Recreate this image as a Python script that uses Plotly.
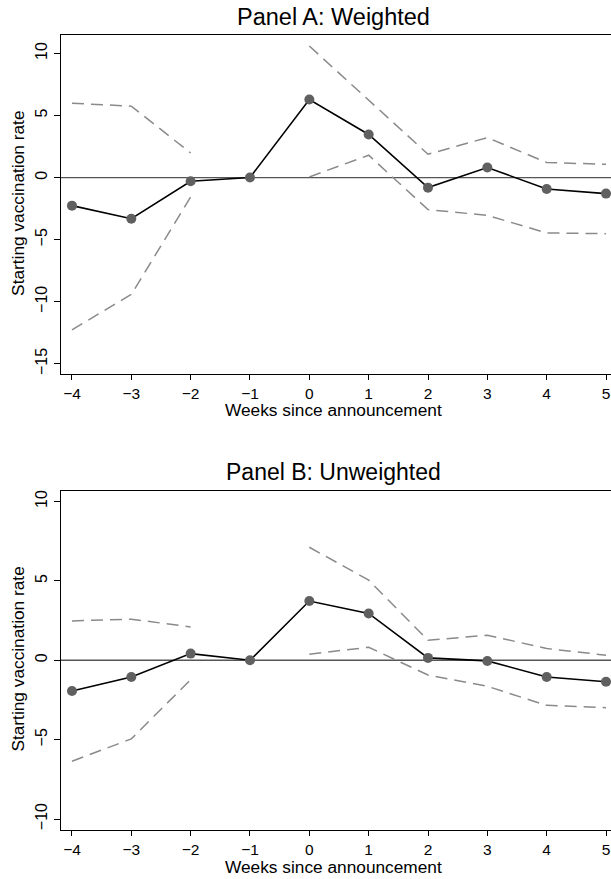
import plotly.graph_objects as go

weeks = [-4, -3, -2, -1, 0, 1, 2, 3, 4, 5]

# Panel A: Weighted
a_est = [-2.26, -3.31, -0.30, 0.0, 6.29, 3.47, -0.81, 0.81, -0.92, -1.29]
a_hi = [5.99, 5.75, 1.98, None, 10.59, 6.20, 1.88, 3.22, 1.21, 1.07]
a_lo = [-12.26, -9.41, -1.56, None, 0.05, 1.80, -2.58, -3.04, -4.46, -4.52]

# Panel B: Unweighted
b_est = [-1.94, -1.05, 0.42, 0.0, 3.73, 2.95, 0.15, -0.04, -1.05, -1.35]
b_hi = [2.48, 2.59, 2.10, None, 7.12, 5.05, 1.26, 1.58, 0.74, 0.32]
b_lo = [-6.36, -4.95, -1.22, None, 0.38, 0.82, -0.93, -1.64, -2.84, -2.99]

a_yticks = [10, 5, 0, -5, -10, -15]
b_yticks = [10, 5, 0, -5, -10]

FONT = "Liberation Sans, Arial, Helvetica, sans-serif"
CI_COLOR = "#8a8a8a"
PT_COLOR = "#606060"

# pixel layout helpers
H = 879
TOP = 35
BOT = 830.5
PH = BOT - TOP


def py(px):
    return (BOT - px) / PH


def px_x(px):
    return (px - 61) / 550


fig = go.Figure()


def add_panel(est, hi, lo, xa, ya):
    for ci in (hi, lo):
        fig.add_trace(go.Scatter(
            x=weeks, y=ci, xaxis=xa, yaxis=ya, mode="lines",
            line=dict(color=CI_COLOR, width=1.5, dash="12px,7px"),
            connectgaps=False, showlegend=False, hoverinfo="skip"))
    fig.add_trace(go.Scatter(
        x=weeks, y=est, xaxis=xa, yaxis=ya, mode="lines+markers",
        line=dict(color="black", width=1.6),
        marker=dict(color=PT_COLOR, size=10),
        cliponaxis=False, showlegend=False))


add_panel(a_est, a_hi, a_lo, "x", "y")
add_panel(b_est, b_hi, b_lo, "x2", "y2")

xcommon = dict(range=[-4.185, 5.084], tickvals=weeks, ticks="outside", ticklen=5,
               tickwidth=1.2, tickcolor="black", showline=True, linecolor="black",
               linewidth=1.3, mirror=True, showgrid=False, zeroline=False,
               tickfont=dict(size=15.5, color="black", family=FONT))
ycommon = dict(ticks="outside", ticklen=6, tickwidth=1.2, tickcolor="black",
               showline=True, linecolor="black", linewidth=1.3, mirror=False,
               showgrid=False, zeroline=False, tickangle=-90,
               tickfont=dict(size=16, color="black", family=FONT))

fig.update_layout(
    width=611, height=H,
    margin=dict(l=61, r=0, t=TOP, b=H - BOT),
    paper_bgcolor="white", plot_bgcolor="white",
    font=dict(family=FONT, color="black"),
    xaxis=dict(domain=[0, 1], anchor="y", **xcommon),
    yaxis=dict(domain=[py(374), 1.0], anchor="x", range=[-15.8, 11.48],
               tickvals=a_yticks, **ycommon),
    xaxis2=dict(domain=[0, 1], anchor="y2", **xcommon),
    yaxis2=dict(domain=[0.0, py(491)], anchor="x2", range=[-10.69, 10.68],
                tickvals=b_yticks, **ycommon),
)

for ya in ("y", "y2"):
    fig.add_shape(type="line", xref="x domain" if ya == "y" else "x2 domain",
                  yref=ya, x0=0, x1=1, y0=0, y1=0,
                  line=dict(color="#555555", width=1.3), layer="below")

ann = [
    dict(text="Panel A: Weighted", x=0.495, y=py(17), size=23.5, angle=0),
    dict(text="Panel B: Unweighted", x=0.495, y=py(472), size=23, angle=0),
    dict(text="Weeks since announcement", x=0.495, y=py(410), size=17.3, angle=0),
    dict(text="Weeks since announcement", x=0.495, y=py(868), size=17.3, angle=0),
    dict(text="Starting vaccination rate", x=px_x(18), y=py(204), size=17.3, angle=-90),
    dict(text="Starting vaccination rate", x=px_x(18), y=py(660), size=17.3, angle=-90),
]
for a in ann:
    fig.add_annotation(text=a["text"], x=a["x"], y=a["y"], xref="paper", yref="paper",
                       xanchor="center", yanchor="middle", showarrow=False,
                       textangle=a["angle"], font=dict(size=a["size"], color="black", family=FONT))

fig.write_html(
    "out.html",
    config={"displayModeBar": False},
    post_script="document.body.style.margin='0';document.body.style.padding='0';"
                "document.body.style.overflow='hidden';"
                "document.documentElement.style.overflow='hidden';",
)
